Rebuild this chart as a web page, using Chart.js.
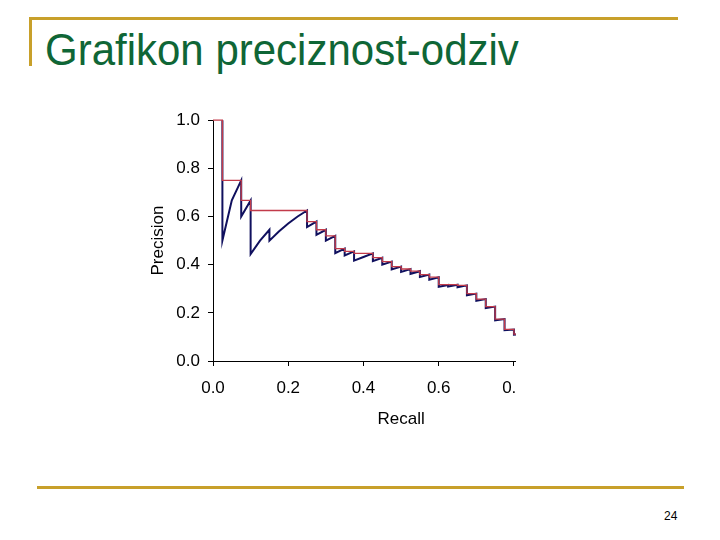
<!DOCTYPE html>
<html>
<head>
<meta charset="utf-8">
<script src="https://cdn.jsdelivr.net/npm/chart.js@4"></script>
<style>
  html, body { margin: 0; padding: 0; background: #fff; }
  body { width: 720px; height: 540px; position: relative; overflow: hidden; font-family: "Liberation Sans", Arial, sans-serif; }
  .topline { position: absolute; left: 29px; top: 17px; width: 649px; height: 3px; background: #c8a02a; }
  .leftbar { position: absolute; left: 29px; top: 17px; width: 3px; height: 49px; background: #c8a02a; }
  .bottomline { position: absolute; left: 37px; top: 486px; width: 647px; height: 3px; background: #c8a02a; }
  h1 { position: absolute; left: 45px; top: 27px; margin: 0; font-weight: normal; font-size: 42px; line-height: 48px;
       color: #0f6636; white-space: nowrap; transform: scaleY(1.07); transform-origin: 0 38px; }
  .pagenum { position: absolute; left: 664px; top: 509px; font-size: 12px; color: #000; }
  .clip { position: absolute; left: 130px; top: 102px; width: 386px; height: 328px; overflow: hidden; }
  .clip canvas { position: absolute; left: 0; top: 0; }
</style>
</head>
<body>
<div class="topline"></div>
<div class="leftbar"></div>
<h1>Grafikon preciznost-odziv</h1>
<div class="clip"><canvas id="prChart" width="483" height="328"></canvas></div>
<div class="bottomline"></div>
<div class="pagenum">24</div>

<script>
// krivulja preciznost-odziv (plava) i interpolirana preciznost (crvena)
const recallPoints = [0.025, 0.025, 0.05, 0.075, 0.075, 0.1, 0.1, 0.125, 0.15, 0.15, 0.175, 0.2, 0.225, 0.25,
  0.25, 0.275, 0.275, 0.3, 0.3, 0.325, 0.325, 0.35, 0.35, 0.375, 0.375, 0.4, 0.425, 0.425, 0.45, 0.45,
  0.475, 0.475, 0.5, 0.5, 0.525, 0.525, 0.55, 0.55, 0.575, 0.575, 0.6, 0.6, 0.625, 0.625, 0.65, 0.65,
  0.675, 0.675, 0.7, 0.7, 0.725, 0.725, 0.75, 0.75, 0.775, 0.775, 0.8, 0.8, 0.825];
const precisionPoints = [1.0, 0.5, 0.667, 0.75, 0.6, 0.667, 0.444, 0.5, 0.545, 0.5, 0.538, 0.571, 0.6, 0.625,
  0.556, 0.579, 0.524, 0.545, 0.5, 0.52, 0.448, 0.467, 0.438, 0.455, 0.417, 0.432, 0.447, 0.415, 0.429, 0.4,
  0.413, 0.38, 0.392, 0.37, 0.382, 0.362, 0.373, 0.349, 0.359, 0.338, 0.348, 0.308, 0.316, 0.309, 0.317, 0.306,
  0.314, 0.273, 0.28, 0.25, 0.257, 0.22, 0.226, 0.169, 0.174, 0.128, 0.131, 0.109, 0.112];

const interpRecall = [0, 0.025, 0.05, 0.075, 0.1, 0.125, 0.15, 0.175, 0.2, 0.225, 0.25, 0.275, 0.3, 0.325,
  0.35, 0.375, 0.4, 0.425, 0.45, 0.475, 0.5, 0.525, 0.55, 0.575, 0.6, 0.625, 0.65, 0.675, 0.7, 0.725,
  0.75, 0.775, 0.8, 0.825];
const interpPrecision = [1.0, 1.0, 0.75, 0.75, 0.667, 0.625, 0.625, 0.625, 0.625, 0.625, 0.625, 0.579, 0.545, 0.52,
  0.467, 0.455, 0.447, 0.447, 0.429, 0.413, 0.392, 0.382, 0.373, 0.359, 0.348, 0.317, 0.317, 0.314, 0.28, 0.257,
  0.226, 0.174, 0.131, 0.112];

const axisTicks = [0, 0.2, 0.4, 0.6, 0.8, 1.0];

const font = { family: '"Liberation Sans", Arial, sans-serif', size: 17 };

const ctx = document.getElementById('prChart').getContext('2d');

new Chart(ctx, {
  type: 'scatter',
  data: {
    datasets: [{
      label: 'Interpolirana preciznost',
      data: interpRecall.map((r, i) => ({ x: r, y: interpPrecision[i] })),
      showLine: true,
      stepped: 'after',
      borderColor: '#c23b4a',
      borderWidth: 1.3,
      pointRadius: 0,
      clip: 4,
      order: 0
    }, {
      label: 'Preciznost',
      data: recallPoints.map((r, i) => ({ x: r, y: precisionPoints[i] })),
      showLine: true,
      borderColor: '#10105e',
      borderWidth: 2,
      pointRadius: 0,
      clip: 4,
      order: 1
    }]
  },
  options: {
    responsive: false,
    animation: false,
    layout: { padding: 0 },
    plugins: {
      legend: { display: false },
      tooltip: { enabled: false }
    },
    scales: {
      x: {
        type: 'linear',
        min: 0,
        max: 1,
        afterFit: s => { s.height = 69; },
        afterBuildTicks: s => { s.ticks = axisTicks.map(v => ({ value: v })); },
        border: { color: '#000', width: 1 },
        grid: { drawOnChartArea: false, tickLength: 5, color: '#000' },
        ticks: { color: '#000', font: font, padding: 12, maxRotation: 0, callback: v => v.toFixed(1) },
        title: { display: true, text: 'Recall', color: '#000', font: font, padding: { top: 5, bottom: 0 } }
      },
      y: {
        min: 0,
        max: 1,
        afterFit: s => { s.width = 83; },
        afterBuildTicks: s => { s.ticks = axisTicks.map(v => ({ value: v })); },
        border: { color: '#000', width: 1 },
        grid: { drawOnChartArea: false, tickLength: 5, color: '#000' },
        ticks: { color: '#000', font: font, padding: 8, callback: v => v.toFixed(1) },
        title: { display: true, text: 'Precision', color: '#000', font: font, padding: { top: 18, bottom: 0 } }
      }
    }
  }
});
</script>
</body>
</html>
